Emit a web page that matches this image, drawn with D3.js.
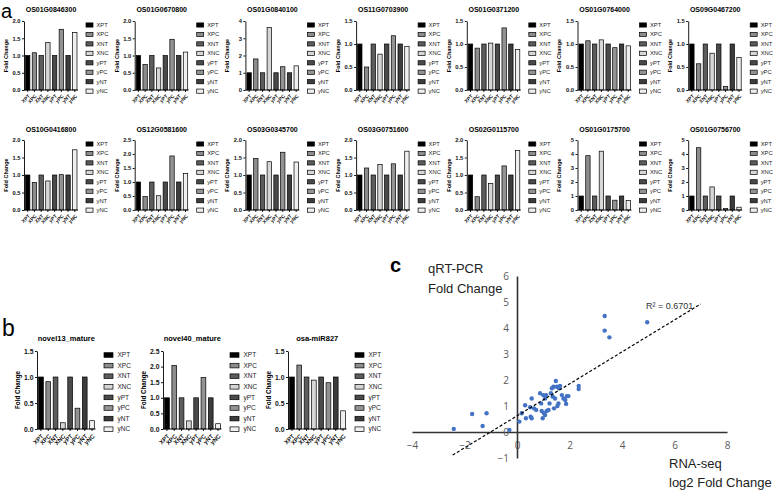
<!DOCTYPE html>
<html><head><meta charset="utf-8">
<script src="https://cdn.jsdelivr.net/npm/d3@7"></script>
<style>body{margin:0;background:#fff}svg{display:block;font-family:"Liberation Sans",Arial,sans-serif}</style>
</head><body><svg id="fig" width="778" height="492"></svg>
<script>
// ---------------- DATA ----------------
const samples = ["XPT","XPC","XNT","XNC","yPT","yPC","yNT","yNC"];

// panel a, row 1
const genesRow1 = ["OS01G0846300","OS01G0670800","OS01G0840100","OS11G0703900","OS01G0371200","OS01G0764000","OS09G0467200"];
const fcOS01G0846300 = [1.0, 1.08, 1.0, 1.38, 1.0, 1.76, 1.0, 1.67];
const fcOS01G0670800 = [1.0, 0.74, 1.0, 0.64, 1.0, 1.47, 1.0, 1.10];
const fcOS01G0840100 = [1.0, 1.80, 1.0, 3.62, 1.0, 1.35, 1.0, 1.40];
const fcOS11G0703900 = [1.0, 0.50, 1.0, 0.78, 1.0, 1.18, 1.0, 0.95];
const fcOS01G0371200 = [1.0, 0.91, 1.0, 1.02, 1.0, 1.35, 1.0, 0.88];
const fcOS01G0764000 = [1.0, 1.07, 1.0, 1.09, 1.0, 0.92, 1.0, 0.96];
const fcOS09G0467200 = [1.0, 0.57, 1.0, 0.80, 1.0, 0.08, 1.0, 0.71];
const yMaxRow1 = [2, 2, 4, 1.5, 1.5, 1.5, 1.5];
const yStepRow1 = [0.5, 0.5, 1, 0.5, 0.5, 0.5, 0.5];

// panel a, row 2
const genesRow2 = ["OS10G0416800","OS12G0581600","OS03G0345700","OS03G0751600","OS02G0115700","OS01G0175700","OS01G0756700"];
const fcOS10G0416800 = [1.0, 0.79, 1.0, 0.83, 1.0, 1.01, 1.0, 1.72];
const fcOS12G0581600 = [1.0, 0.48, 1.0, 0.51, 1.0, 1.93, 1.0, 1.30];
const fcOS03G0345700 = [1.0, 1.47, 1.0, 1.38, 1.0, 1.65, 1.0, 1.37];
const fcOS03G0751600 = [1.0, 1.20, 1.0, 1.30, 1.0, 1.32, 1.0, 1.68];
const fcOS02G0115700 = [1.0, 0.38, 1.0, 0.76, 1.0, 1.26, 1.0, 1.70];
const fcOS01G0175700 = [1.0, 3.88, 1.0, 4.20, 1.0, 0.70, 1.0, 0.67];
const fcOS01G0756700 = [1.0, 4.45, 1.0, 1.65, 1.0, 0.10, 1.0, 0.20];
const yMaxRow2 = [2, 2.5, 2, 2, 2, 5, 5];
const yStepRow2 = [0.5, 0.5, 0.5, 0.5, 0.5, 1, 1];

// panel b
const mirnas = ["novel13_mature","novel40_mature","osa-miR827"];
const fcNovel13 = [1.0, 0.91, 1.0, 0.12, 1.0, 0.40, 1.0, 0.16];
const fcNovel40 = [1.0, 2.04, 1.0, 0.26, 1.0, 1.65, 1.0, 0.17];
const fcMiR827  = [1.0, 1.23, 1.0, 0.94, 1.0, 0.89, 1.0, 0.35];
const yMaxB = [1.5, 2.5, 1.5];
const yStepB = [0.5, 0.5, 0.5];

// panel c
const rnaSeqLog2FC = [-2.41,-1.71,-1.31,-1.16,-0.29,0.09,0.18,0.31,0.34,0.50,0.52,0.56,0.56,0.65,0.73,0.88,0.92,0.94,0.98,1.00,1.03,1.07,1.07,1.13,1.11,1.20,1.24,1.29,1.33,1.36,1.39,1.41,1.45,1.48,1.52,1.54,1.58,1.60,1.64,1.71,1.77,1.84,1.87,1.90,1.96,2.35,2.35,3.34,3.34,3.52,4.96];
const qrtPcrFC     = [0.12,0.69,0.23,0.72,0.08,0.40,0.72,1.03,0.53,0.95,0.59,1.29,0.53,0.91,0.85,1.49,1.10,0.81,0.53,1.42,0.72,1.29,0.65,0.81,1.42,0.85,1.10,1.49,1.68,1.36,1.74,0.91,1.29,1.96,1.74,1.00,1.10,1.68,1.77,1.42,1.29,1.23,1.08,1.38,1.38,1.77,1.65,4.46,3.90,3.64,4.22];
const trendSlope = 0.615, trendIntercept = 0.62, trendXRange = [-2.45, 7.0];
const r2Label = "R\u00B2 = 0.6701";
const xTicksC = [-4,-2,0,2,4,6,8];
const yTicksC = [-1,0,1,2,3,4,5,6];

// ---------------- STYLE ----------------
const fills = ["#000000","#8c8c8c","#5c5c5c","#d6d6d6","#4a4a4a","#939393","#3c3c3c","#efefef"];
const svg = d3.select("#fig");

function fmt(step){ return step < 1 ? d3.format(".1f") : d3.format("d"); }

function barChart(o){
  const g = svg.append("g");
  const y = d3.scaleLinear().domain([0, o.max]).range([o.bottom, o.top]);
  const x = d3.scaleBand().domain(samples).range([o.axisX + 0.5, o.axisX + o.plotW]).paddingInner(0.35).paddingOuter(0.15);
  const data = samples.map((s,i)=>({s, v:o.values[i], i}));
  g.selectAll("rect.bar").data(data).join("rect").attr("class","bar")
    .attr("x", d=>x(d.s)).attr("width", x.bandwidth())
    .attr("y", d=>y(d.v)).attr("height", d=>y(0)-y(d.v))
    .attr("fill", d=>fills[d.i]).attr("stroke","#000").attr("stroke-width",0.7);
  const ya = d3.axisLeft(y).tickValues(d3.range(0, o.max + 1e-9, o.step)).tickFormat(fmt(o.step)).tickSize(2).tickSizeOuter(0).tickPadding(1.5);
  const gy = g.append("g").attr("transform",`translate(${o.axisX},0)`).call(ya);
  gy.selectAll("text").style("font-size",o.tickFs+"px").style("font-weight","bold").attr("fill","#111");
  gy.selectAll("path,line").attr("stroke","#000").attr("stroke-width",0.9);
  const xa = d3.axisBottom(x).tickSize(2).tickSizeOuter(0);
  const gx = g.append("g").attr("transform",`translate(0,${o.bottom})`).call(xa);
  gx.select(".domain").attr("d",`M${o.axisX},0H${o.axisX + o.plotW}`);
  gx.selectAll("path,line").attr("stroke","#000").attr("stroke-width",0.9);
  gx.selectAll("text").attr("x",0).attr("y",0).attr("dy","0.35em")
    .attr("transform",`translate(1.5,${o.tickFs*0.9}) rotate(-45)`)
    .style("text-anchor","end").style("font-size",o.xFs+"px").style("font-weight","bold").attr("fill","#111");
  g.append("text").attr("x", o.axisX + o.plotW/2).attr("y", o.titleY).attr("text-anchor","middle")
    .style("font-size",o.titleFs+"px").style("font-weight","bold").text(o.title);
  g.append("text").attr("transform",`translate(${o.axisX - o.ylabOff},${(o.top+o.bottom)/2}) rotate(-90)`)
    .attr("text-anchor","middle").attr("dy","0.35em").style("font-size",o.ylabFs+"px").style("font-weight","bold").text("Fold Change");
  const lg = g.append("g");
  samples.forEach((s,i)=>{
    const cy = o.top + 4 + i*o.legStep;
    lg.append("rect").attr("x",o.legX).attr("y",cy - o.swH/2).attr("width",o.swW).attr("height",o.swH)
      .attr("fill",fills[i]).attr("stroke","#000").attr("stroke-width",0.7);
    lg.append("text").attr("x",o.legX + o.swW + o.legGap).attr("y",cy).attr("dy","0.35em")
      .style("font-size",o.legFs+"px").attr("fill","#222").text(s);
  });
}

const row1Vals = [fcOS01G0846300,fcOS01G0670800,fcOS01G0840100,fcOS11G0703900,fcOS01G0371200,fcOS01G0764000,fcOS09G0467200];
const row2Vals = [fcOS10G0416800,fcOS12G0581600,fcOS03G0345700,fcOS03G0751600,fcOS02G0115700,fcOS01G0175700,fcOS01G0756700];
const aStyle = {plotW:54, tickFs:5.8, xFs:5, titleFs:7, ylabFs:5.5, ylabOff:18, legStep:9.45, swW:7, swH:4.2, legGap:3.5, legFs:5.8};
[ {genes:genesRow1, vals:row1Vals, max:yMaxRow1, step:yStepRow1, top:21, bottom:90, titleY:12},
  {genes:genesRow2, vals:row2Vals, max:yMaxRow2, step:yStepRow2, top:140, bottom:210, titleY:132} ].forEach(r=>{
  r.genes.forEach((gname,i)=>{
    const legX = 86 + 110.7*i;
    barChart(Object.assign({}, aStyle, {title:gname, values:r.vals[i], max:r.max[i], step:r.step[i],
      axisX: legX - 62, legX, top:r.top, bottom:r.bottom, titleY:r.titleY}));
  });
});

const bVals = [fcNovel13, fcNovel40, fcMiR827];
const bAxis = [37, 163, 288];
mirnas.forEach((m,i)=>{
  barChart({title:m, values:bVals[i], max:yMaxB[i], step:yStepB[i], axisX:bAxis[i], legX:bAxis[i]+67,
    plotW:58.5, top:351, bottom:429, titleY:341, tickFs:6.8, xFs:6, titleFs:7.5, ylabFs:6.3, ylabOff:19,
    legStep:10.6, swW:9, swH:4.6, legGap:4.5, legFs:6.5});
});

// panel labels
svg.append("text").attr("x",1).attr("y",18).style("font-size","20px").text("a");
svg.append("text").attr("x",2).attr("y",336).style("font-size","23px").text("b");
svg.append("text").attr("x",390).attr("y",272).style("font-size","20px").style("font-weight","bold").text("c");

// ---------------- panel c ----------------
const xc = d3.scaleLinear().domain([-4,8]).range([412,727]);
const yc = d3.scaleLinear().domain([-1,6]).range([458,276]);
const gc = svg.append("g");
const gxc = gc.append("g").attr("transform",`translate(0,${yc(0)})`)
  .call(d3.axisBottom(xc).tickValues(xTicksC).tickFormat(d3.format("d")).tickSize(0).tickSizeOuter(0).tickPadding(10));
const gyc = gc.append("g").attr("transform",`translate(${xc(0)},0)`)
  .call(d3.axisLeft(yc).tickValues(yTicksC).tickFormat(d3.format("d")).tickSize(0).tickSizeOuter(0).tickPadding(8));
[gxc,gyc].forEach(a=>{
  a.select(".domain").attr("stroke","#333").attr("stroke-width",1.6);
  a.selectAll("text").style("font-size","10px").attr("fill","#595959").style("font-family","'Open Sans','Liberation Sans',sans-serif");
});
gc.selectAll("circle").data(rnaSeqLog2FC.map((v,i)=>[v,qrtPcrFC[i]])).join("circle")
  .attr("cx",d=>xc(d[0])).attr("cy",d=>yc(d[1])).attr("r",2.2).attr("fill","#4472C4");
gc.append("line")
  .attr("x1",xc(trendXRange[0])).attr("y1",yc(trendSlope*trendXRange[0]+trendIntercept))
  .attr("x2",xc(trendXRange[1])).attr("y2",yc(trendSlope*trendXRange[1]+trendIntercept))
  .attr("stroke","#000").attr("stroke-width",1.2).attr("stroke-dasharray","3,2");
gc.append("text").attr("x",646).attr("y",309).style("font-size","9px").attr("fill","#333").text(r2Label);
gc.append("text").attr("x",428).attr("y",273).style("font-size","13px").attr("fill","#222").text("qRT-PCR");
gc.append("text").attr("x",428).attr("y",293).style("font-size","13px").attr("fill","#222").text("Fold Change");
gc.append("text").attr("x",669).attr("y",468).style("font-size","13px").attr("fill","#222").text("RNA-seq");
gc.append("text").attr("x",669).attr("y",487).style("font-size","13px").attr("fill","#222").text("log2 Fold Change");
</script></body></html>
